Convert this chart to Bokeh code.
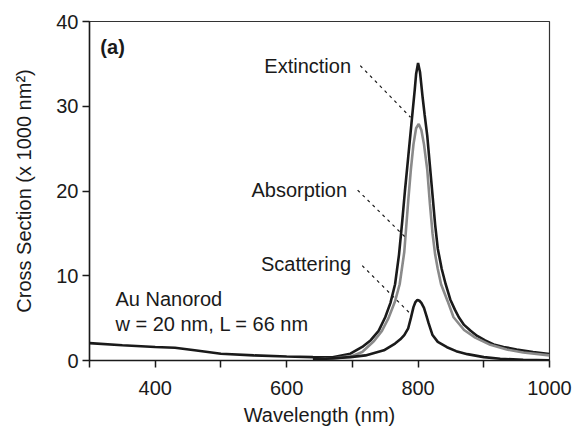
from bokeh.plotting import figure
from bokeh.models import Range1d, FixedTicker, Label
from bokeh.embed import file_html
from bokeh.resources import INLINE

# ---- data ----
wl_ext = [300, 350, 400, 430, 460, 500, 550, 600, 640, 670, 697, 715, 728, 740, 750, 758, 765,
          771, 776, 780, 785, 790, 795, 797, 800, 803, 807, 810, 814, 818, 822, 826, 830, 836,
          842, 849, 856, 862, 870, 880, 890, 902, 915, 930, 950, 975, 1000]
ext = [2.05, 1.8, 1.6, 1.5, 1.2, 0.8, 0.6, 0.47, 0.4, 0.38, 0.8, 1.6, 2.4, 3.5, 5.1, 6.8, 9.0,
       12.5, 16.5, 20.0, 24.0, 28.0, 32.0, 33.8, 35.1, 34.0, 31.0, 29.0, 26.5, 23.0, 19.5, 16.0,
       13.2, 10.8, 9.0, 7.2, 6.0, 5.1, 4.2, 3.5, 2.9, 2.36, 1.9, 1.6, 1.3, 1.0, 0.75]

wl_abs = [640, 670, 700, 715, 733, 745, 755, 765, 772, 779, 785, 789, 793, 797, 801, 805, 809,
          814, 818, 822, 826, 830, 835, 845, 854, 870, 887, 910, 935, 960, 1000]
absorption = [0.1, 0.22, 0.55, 1.0, 2.3, 3.5, 5.0, 7.0, 9.0, 12.8, 18.8, 22.5, 25.5, 27.4, 27.9,
              27.2, 25.5, 22.5, 18.5, 15.0, 12.5, 10.8, 9.0, 7.0, 5.1, 3.6, 2.7, 1.85, 1.3, 0.95, 0.6]

wl_sca = [640, 660, 697, 720, 748, 765, 773, 779, 785, 789, 793, 796, 799, 802, 805, 809, 813,
          816, 822, 830, 844, 858, 875, 900, 925, 960, 1000]
scattering = [0.15, 0.2, 0.4, 0.6, 1.2, 2.0, 2.5, 3.0, 3.8, 5.0, 6.3, 6.9, 7.16, 7.05, 6.8, 6.2,
              5.2, 4.4, 3.0, 2.2, 1.57, 1.1, 0.75, 0.4, 0.2, 0.08, 0.02]

x_major = [400, 600, 800, 1000]
x_minor = [300, 500, 700, 900]
y_major = [0, 10, 20, 30, 40]

FONT = "Liberation Sans"
FS = "20px"
INK = "#1a1a1a"

p = figure(width=573, height=428, output_backend="svg", toolbar_location=None,
           x_range=Range1d(300, 1000), y_range=Range1d(0, 40),
           min_border_left=89, min_border_right=24, min_border_top=21, min_border_bottom=68)
p.background_fill_color = "white"
p.border_fill_color = "white"
p.grid.visible = False
p.outline_line_color = "#333333"
p.outline_line_width = 1.2

p.xaxis.ticker = FixedTicker(ticks=x_major, minor_ticks=x_minor)
p.yaxis.ticker = FixedTicker(ticks=y_major, minor_ticks=[])
for ax in (p.xaxis, p.yaxis):
    ax.axis_line_color = INK
    ax.axis_line_width = 1.5
    ax.major_tick_line_color = INK
    ax.major_tick_line_width = 1.5
    ax.minor_tick_line_color = INK
    ax.minor_tick_line_width = 1.5
    ax.major_tick_out = 7
    ax.major_tick_in = 0
    ax.minor_tick_out = 7
    ax.minor_tick_in = 0
    ax.major_label_text_font = FONT
    ax.major_label_text_font_size = FS
    ax.major_label_text_color = INK
    ax.axis_label_text_font = FONT
    ax.axis_label_text_font_size = FS
    ax.axis_label_text_font_style = "normal"
    ax.axis_label_text_color = INK

p.xaxis.axis_label = "Wavelength (nm)"
p.yaxis.axis_label = "Cross Section (x 1000 nm\u00b2)"
p.xaxis.major_label_standoff = 13
p.yaxis.major_label_standoff = 4
p.xaxis.axis_label_standoff = 6
p.yaxis.axis_label_standoff = 18

p.line(wl_ext, ext, line_color=INK, line_width=2.6)
p.line(wl_abs, absorption, line_color="#8a8a8a", line_width=2.6)
p.line(wl_sca, scattering, line_color=INK, line_width=2.6)

# leader lines (annotation geometry)
leaders = [((712, 34.8), (788.5, 28.7)),
           ((708, 20.1), (782.5, 14.4)),
           ((715, 11.2), (788.5, 5.5))]
for (x0, y0), (x1, y1) in leaders:
    p.line([x0, x1], [y0, y1], line_color=INK, line_width=1.2, line_dash="3 4")

def lab(x, y, t, align="left", bold=False):
    p.add_layout(Label(x=x, y=y, text=t, text_font=FONT, text_font_size=FS,
                       text_color=INK, text_align=align, text_baseline="middle",
                       text_font_style="bold" if bold else "normal"))

lab(698, 34.8, "Extinction", "right")
lab(692, 20.1, "Absorption", "right")
lab(698, 11.4, "Scattering", "right")
lab(316.5, 37.0, "(a)", bold=True)
lab(339.5, 7.3, "Au Nanorod")
lab(339.5, 4.35, "w = 20 nm, L = 66 nm")

open("out.html", "w").write(file_html(p, INLINE))
